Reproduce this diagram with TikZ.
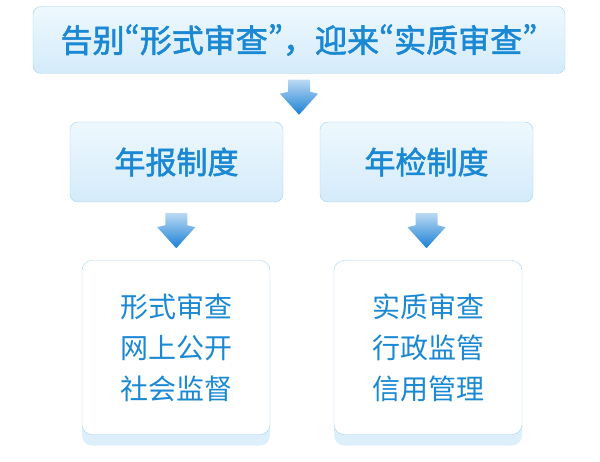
\documentclass[tikz,border=0pt]{standalone}
\usepackage{fontspec}
\newfontfamily\cjk{Noto Sans CJK SC}
\newfontfamily\cjkbold[FakeBold=1.8]{Noto Sans CJK SC}
\newcommand\cnlq{{\addfontfeature{RawFeature=+pwid}“}}
\newcommand\cnrq{{\addfontfeature{RawFeature=+pwid}”}}
\usetikzlibrary{positioning, calc, shadows}
\definecolor{txtblue}{HTML}{1A88D3}
\definecolor{edgeblue}{HTML}{A3D2EF}
\definecolor{boxtop}{HTML}{EEF8FE}
\definecolor{boxbot}{HTML}{D4EBFA}
\definecolor{arrowblue}{HTML}{1A80D6}
\definecolor{shadowblue}{HTML}{DCEFFB}

\tikzset{
  headbox/.style={draw=edgeblue, rounded corners=8pt, top color=boxtop, bottom color=boxbot, text=txtblue},
  listbox/.style={draw=edgeblue, rounded corners=10pt, fill=white, text=txtblue, align=center,
    minimum width=188pt, minimum height=174pt, font=\cjk\fontsize{28}{41}\selectfont,
    drop shadow={shadow xshift=0pt, shadow yshift=-11pt, fill=shadowblue, opacity=1}},
  downarrow/.pic={
    \shade[top color=arrowblue!30, middle color=arrowblue!85, bottom color=arrowblue]
      (-11,-18) -- (11,-18) -- (11,-6) -- (19,-4) -- (0,17) -- (-19,-4) -- (-11,-6) -- cycle;
  }
}

\begin{document}
\begin{tikzpicture}[x=1pt, y=-1pt]
  \useasboundingbox (0,0) rectangle (600,462);
  \node[headbox, minimum width=532pt, minimum height=67pt, font=\cjkbold\fontsize{32}{36}\selectfont] (top) at (299,40) {告别\cnlq 形式审查\cnrq ，迎来\cnlq 实质审查\cnrq};
  \node[headbox, minimum width=213pt, minimum height=80pt, font=\cjkbold\fontsize{31}{36}\selectfont] (annual) at (176.5,162) {年报制度};
  \node[headbox, minimum width=213pt, minimum height=80pt, font=\cjkbold\fontsize{31}{36}\selectfont] (inspect) at (426.5,162) {年检制度};
  \node[listbox] (formal) at (176,347.5) {形式审查\\网上公开\\社会监督};
  \node[listbox] (real) at (428,347.5) {实质审查\\行政监管\\信用管理};
  \pic at ($(top.south)!0.5!(top.south |- annual.north)$) {downarrow};
  \pic at ($(annual.south)!0.5!(formal.north)$) {downarrow};
  \pic at ($(inspect.south)!0.5!(inspect.south |- real.north)$) {downarrow};
\end{tikzpicture}
\end{document}
